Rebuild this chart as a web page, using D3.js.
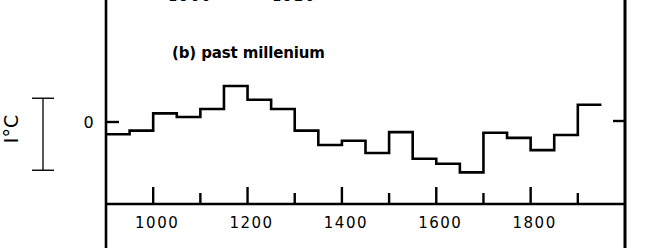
<!DOCTYPE html>
<html>
<head>
<meta charset="utf-8">
<script src="https://cdn.jsdelivr.net/npm/d3@7"></script>
<style>
  html, body { margin: 0; padding: 0; background: #fff; }
  svg { display: block; }
  text { font-family: "DejaVu Sans", sans-serif; fill: #000; }
</style>
</head>
<body>
<svg id="chart" width="660" height="248"></svg>
<script>
// start year of each 50-year bin
const binStart = [900, 950, 1000, 1050, 1100, 1150, 1200, 1250, 1300, 1350,
  1400, 1450, 1500, 1550, 1600, 1650, 1700, 1750, 1800, 1850, 1900];
// temperature anomaly (deg C)
const anomaly = [-0.17, -0.12, 0.12, 0.07, 0.18, 0.50, 0.31, 0.18, -0.12, -0.32,
  -0.26, -0.43, -0.14, -0.51, -0.58, -0.70, -0.15, -0.22, -0.39, -0.18, 0.24];
const binEnd = 1950;

const tickYears = [1000, 1100, 1200, 1300, 1400, 1500, 1600, 1700, 1800, 1900];
const labelYears = [1000, 1200, 1400, 1600, 1800];
const scaleBar = [-0.67, 0.33];   // the 1 deg C bar at left
// labels of the panel above, cut off by the frame
const upperLabels = [{ year: 1070, text: "1900" }, { year: 1290, text: "1920" }];

function drawChart() {
  const svg = d3.select("#chart");
  svg.selectAll("*").remove();

  const x = d3.scaleLinear().domain([900, 2000]).range([106, 625]);
  const y = d3.scaleLinear().domain([-1, 1]).range([194, 50]);
  const baseY = 204;

  // frame: left, right and bottom axis lines
  svg.append("line")
    .attr("x1", x(900)).attr("x2", x(900)).attr("y1", 0).attr("y2", 248)
    .attr("stroke", "#000").attr("stroke-width", 2.6);
  svg.append("line")
    .attr("x1", x(2000)).attr("x2", x(2000)).attr("y1", 0).attr("y2", 248)
    .attr("stroke", "#000").attr("stroke-width", 3);
  svg.append("line")
    .attr("x1", x(900)).attr("x2", x(2000)).attr("y1", baseY).attr("y2", baseY)
    .attr("stroke", "#000").attr("stroke-width", 2.6);

  // ticks along the bottom, pointing up
  svg.selectAll("line.tick")
    .data(tickYears)
    .enter().append("line")
    .attr("class", "tick")
    .attr("x1", d => x(d)).attr("x2", d => x(d))
    .attr("y1", baseY)
    .attr("y2", d => labelYears.includes(d) ? baseY - 17 : baseY - 11)
    .attr("stroke", "#000").attr("stroke-width", 2.4);

  svg.selectAll("text.xlab")
    .data(labelYears)
    .enter().append("text")
    .attr("class", "xlab")
    .attr("x", d => x(d) + 4)
    .attr("y", 228)
    .attr("text-anchor", "middle")
    .style("font-size", "15px")
    .style("letter-spacing", "1.5px")
    .text(d => d);

  // zero ticks on both sides
  svg.append("line")
    .attr("x1", x(900)).attr("x2", x(900) + 13).attr("y1", y(0)).attr("y2", y(0))
    .attr("stroke", "#000").attr("stroke-width", 2.4);
  svg.append("line")
    .attr("x1", x(2000) - 12).attr("x2", x(2000)).attr("y1", y(0) - 1).attr("y2", y(0) - 1)
    .attr("stroke", "#000").attr("stroke-width", 2.4);
  svg.append("text")
    .attr("x", 88.5).attr("y", y(0) + 6)
    .attr("text-anchor", "middle")
    .style("font-size", "16px")
    .text("0");

  // 1 deg C scale bar
  svg.append("line")
    .attr("x1", 43).attr("x2", 43).attr("y1", y(scaleBar[1])).attr("y2", y(scaleBar[0]))
    .attr("stroke", "#000").attr("stroke-width", 1.3);
  scaleBar.forEach(v => {
    svg.append("line")
      .attr("x1", 32).attr("x2", 54).attr("y1", y(v)).attr("y2", y(v))
      .attr("stroke", "#000").attr("stroke-width", 1.4);
  });
  svg.append("text")
    .attr("transform", "translate(18,129) rotate(-90)")
    .attr("text-anchor", "middle")
    .style("font-size", "19px")
    .text("I°C");

  // step series
  const pts = binStart.map((d, i) => [d, anomaly[i]]);
  pts.push([binEnd, anomaly[anomaly.length - 1]]);
  const line = d3.line()
    .x(d => x(d[0]))
    .y(d => y(d[1]))
    .curve(d3.curveStepAfter);
  svg.append("path")
    .attr("d", line(pts))
    .attr("fill", "none")
    .attr("stroke", "#000")
    .attr("stroke-width", 2.6);

  // panel title
  svg.append("text")
    .attr("x", 172).attr("y", 58)
    .attr("textLength", 153)
    .attr("lengthAdjust", "spacing")
    .style("font-size", "15px")
    .style("font-weight", "bold")
    .text("(b) past millenium");

  // bottom of the upper panel's labels, cut off at the top
  svg.selectAll("text.upper")
    .data(upperLabels)
    .enter().append("text")
    .attr("class", "upper")
    .attr("x", d => x(d.year) + 4)
    .attr("y", 1)
    .attr("text-anchor", "middle")
    .style("font-size", "15px")
    .style("letter-spacing", "1.5px")
    .text(d => d.text);
}

drawChart();
</script>
</body>
</html>
